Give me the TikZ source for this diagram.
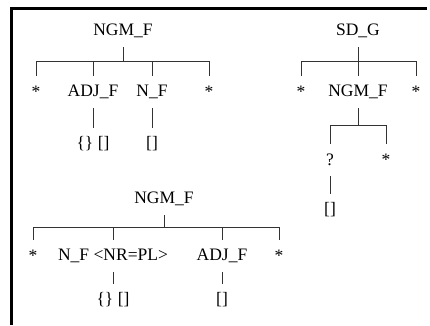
\documentclass[tikz,border=0pt]{standalone}
\usepackage{fontspec}
\setmainfont{Liberation Serif}
\begin{document}
\begin{tikzpicture}[x=1pt,y=-1pt,
  lbl/.style={inner sep=0pt,minimum height=32pt,font=\fontsize{17.5}{20}\selectfont},
  br/.style={line width=0.9pt,black!80}]
  \useasboundingbox (0,0) rectangle (430,325);
  % frame
  \draw[line width=3pt] (427,8.5) -- (11.5,8.5) -- (11.5,325);
  % first tree
  \node[lbl] (t1) at (123,31) {NGM\_F};
  \node[lbl] (t1a) at (36,92) {*};
  \node[lbl] (t1b) at (93,92) {ADJ\_F};
  \node[lbl] (t1c) at (152,92) {N\_F};
  \node[lbl] (t1d) at (209,92) {*};
  \node[lbl] (t1e) at (93,144) {\{\} []};
  \node[lbl] (t1f) at (152,144) {[]};
  \coordinate (b1) at (123,61);
  \draw[br] (t1.south) -- (b1);
  \foreach \c in {t1a,t1b,t1c,t1d} \draw[br] (b1) -| (\c.north);
  \draw[br] (t1b.south) -- (t1e.north);
  \draw[br] (t1c.south) -- (t1f.north);
  % second tree
  \node[lbl] (t2) at (358,31) {SD\_G};
  \node[lbl] (t2a) at (301,92) {*};
  \node[lbl] (t2b) at (358,92) {NGM\_F};
  \node[lbl] (t2c) at (416,92) {*};
  \node[lbl] (t2d) at (330,160) {?};
  \node[lbl] (t2e) at (386,160) {*};
  \node[lbl] (t2f) at (330,210) {[]};
  \coordinate (b2) at (358,61);
  \coordinate (b3) at (358,125);
  \draw[br] (t2.south) -- (b2);
  \foreach \c in {t2a,t2b,t2c} \draw[br] (b2) -| (\c.north);
  \draw[br] (t2b.south) -- (b3);
  \foreach \c in {t2d,t2e} \draw[br] (b3) -| (\c.north);
  \draw[br] (t2d.south) -- (t2f.north);
  % third tree
  \node[lbl] (t3) at (164,199) {NGM\_F};
  \node[lbl] (t3a) at (33,256) {*};
  \node[lbl] (t3b) at (113,256) {N\_F <NR=PL>};
  \node[lbl] (t3c) at (222,256) {ADJ\_F};
  \node[lbl] (t3d) at (279,256) {*};
  \node[lbl] (t3e) at (113,300) {\{\} []};
  \node[lbl] (t3f) at (222,300) {[]};
  \coordinate (b4) at (164,227);
  \draw[br] (t3.south) -- (b4);
  \foreach \c in {t3a,t3b,t3c,t3d} \draw[br] (b4) -| (\c.north);
  \draw[br] (t3b.south) -- (t3e.north);
  \draw[br] (t3c.south) -- (t3f.north);
\end{tikzpicture}
\end{document}
